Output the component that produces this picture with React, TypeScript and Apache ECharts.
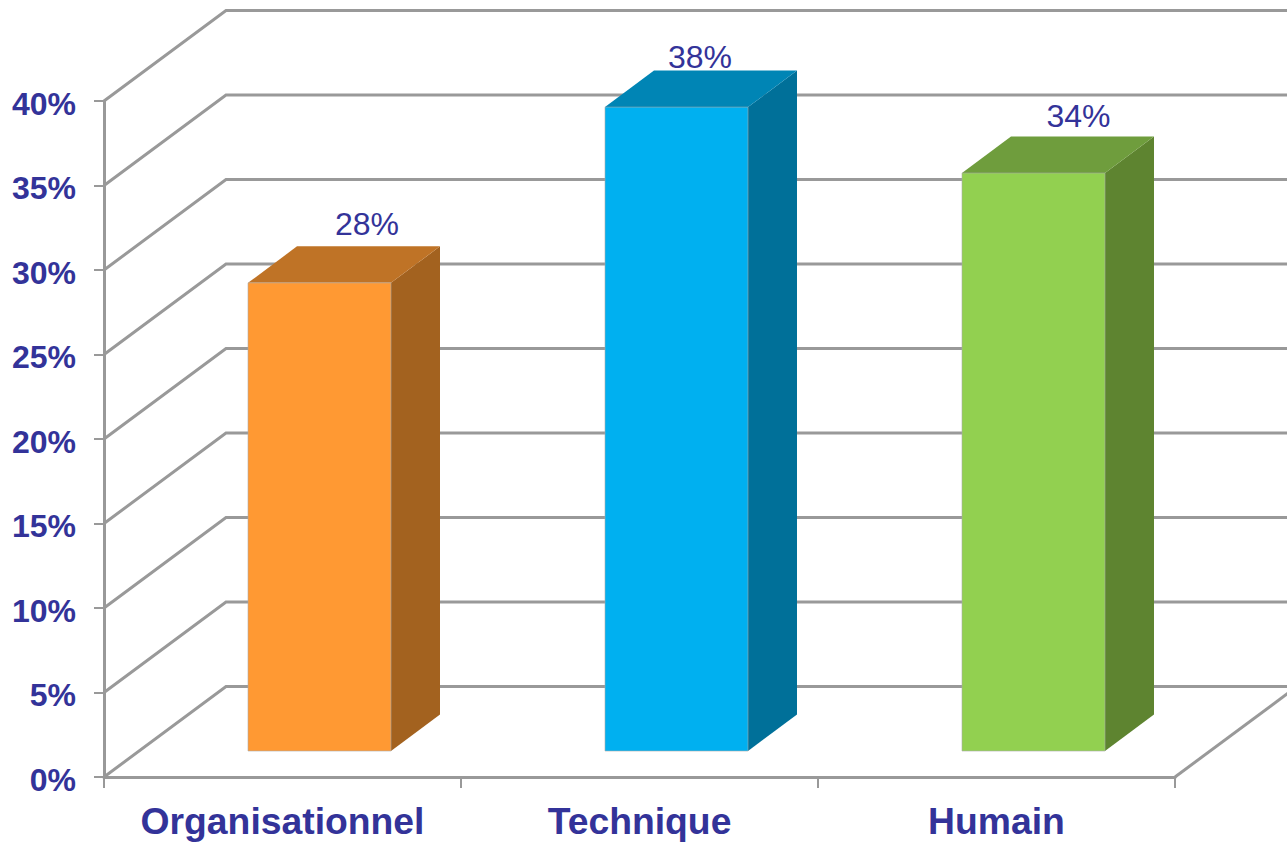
import React, { useEffect, useRef } from "react";
import * as echarts from "echarts";

const categories = ["Organisationnel", "Technique", "Humain"];
const values = [27.7, 38.1, 34.2];
const yTicks = [0, 5, 10, 15, 20, 25, 30, 35, 40];

const frontColors = ["#FF9933", "#00B0F0", "#92D050"];
const topColors = ["#BF7326", "#0085B5", "#6F9D3D"];
const sideColors = ["#A3621F", "#007099", "#5E8430"];
const labelLift = [59, 50, 57];
const labelShift = [47.5, 23.5, 45];

const NAVY = "#333399";
const GREY = "#999999";
const FONT = '"Liberation Sans", Arial, sans-serif';
const DEPTH_X = 122;
const DEPTH_Y = -90.5;
const BAR_W = 143;
const BAR_DX = 37;
const BAR_LIFT = 26;
const BAR_DEPTH_X = 49;
const BAR_DEPTH_Y = -36.5;

export default function App() {
  const ref = useRef<HTMLDivElement>(null);
  useEffect(() => {
    document.body.style.margin = "0";
    const chart = echarts.init(ref.current!, undefined, { renderer: "svg" });
    chart.setOption({
      animation: false,
      backgroundColor: "#ffffff",
      grid: { left: 104, right: 112, top: 101, bottom: 65, containLabel: false },
      xAxis: {
        type: "category",
        data: categories,
        axisLine: { lineStyle: { color: GREY, width: 3 } },
        axisTick: { show: true, length: 11, interval: 0, alignWithLabel: false, lineStyle: { color: GREY, width: 2 } },
        axisLabel: { color: NAVY, fontFamily: FONT, fontWeight: "bold", fontSize: 37.3, margin: 25, interval: 0, hideOverlap: false },
        splitLine: { show: false },
      },
      yAxis: {
        type: "value",
        min: 0,
        max: 40,
        interval: 5,
        axisLine: { show: true, lineStyle: { color: GREY, width: 3 } },
        axisTick: { show: true, length: 10, lineStyle: { color: GREY, width: 2 } },
        axisLabel: {
          margin: 28,
          formatter: (v: number) => `{a|${v}%}`,
          rich: {
            a: {
              color: NAVY,
              fontFamily: FONT,
              fontWeight: "bold",
              fontSize: 32,
              padding: [5, 0, 0, 0],
            },
          },
        },
        splitLine: { show: false },
      },
      series: [
        {
          type: "custom",
          name: "wall",
          silent: true,
          z: 1,
          clip: false,
          encode: { y: 0 },
          data: yTicks.map((t) => [t]),
          renderItem: (params: any, api: any) => {
            const cs = params.coordSys;
            const y = api.coord([0, api.value(0)])[1];
            const x0 = cs.x;
            const x1 = cs.x + cs.width;
            return {
              type: "polyline",
              shape: {
                points: [
                  [x0, y],
                  [x0 + DEPTH_X, y + DEPTH_Y],
                  [x1 + DEPTH_X, y + DEPTH_Y],
                ],
              },
              style: { stroke: GREY, lineWidth: 3, fill: "none" },
            };
          },
        },
        {
          type: "custom",
          name: "floor",
          silent: true,
          z: 1,
          clip: false,
          encode: { y: 0 },
          data: [[0]],
          renderItem: (params: any, api: any) => {
            const cs = params.coordSys;
            const x1 = cs.x + cs.width;
            const y = api.coord([0, 0])[1];
            return {
              type: "line",
              shape: { x1, y1: y, x2: x1 + DEPTH_X, y2: y + DEPTH_Y },
              style: { stroke: GREY, lineWidth: 3 },
            };
          },
        },
        {
          type: "custom",
          name: "bars",
          z: 3,
          clip: false,
          encode: { x: 0, y: 1 },
          data: categories.map((c, i) => [i, values[i]]),
          renderItem: (params: any, api: any) => {
            const i = params.dataIndex;
            const v = api.value(1);
            const center = api.coord([api.value(0), 0]);
            const l = center[0] + BAR_DX - BAR_W / 2;
            const r = l + BAR_W;
            const b = center[1] - BAR_LIFT;
            const t = api.coord([api.value(0), v])[1] - BAR_LIFT;
            const edge = "rgba(170,170,170,0.6)";
            return {
              type: "group",
              children: [
                {
                  type: "polygon",
                  shape: {
                    points: [
                      [r, b],
                      [r + BAR_DEPTH_X, b + BAR_DEPTH_Y],
                      [r + BAR_DEPTH_X, t + BAR_DEPTH_Y],
                      [r, t],
                    ],
                  },
                  style: { fill: sideColors[i] },
                },
                {
                  type: "polygon",
                  shape: {
                    points: [
                      [l, t],
                      [l + BAR_DEPTH_X, t + BAR_DEPTH_Y],
                      [r + BAR_DEPTH_X, t + BAR_DEPTH_Y],
                      [r, t],
                    ],
                  },
                  style: { fill: topColors[i] },
                },
                {
                  type: "rect",
                  shape: { x: l, y: t, width: BAR_W, height: b - t },
                  style: { fill: frontColors[i], stroke: edge, lineWidth: 1 },
                },
                {
                  type: "text",
                  style: {
                    text: Math.round(v) + "%",
                    x: l + BAR_W / 2 + labelShift[i],
                    y: t - labelLift[i],
                    align: "center",
                    verticalAlign: "middle",
                    fill: NAVY,
                    font: `32px ${FONT}`,
                  },
                },
              ],
            };
          },
        },
      ],
    });
    return () => chart.dispose();
  }, []);
  return <div ref={ref} style={{ position: "absolute", left: 0, top: 0, width: 1287, height: 842 }} />;
}
